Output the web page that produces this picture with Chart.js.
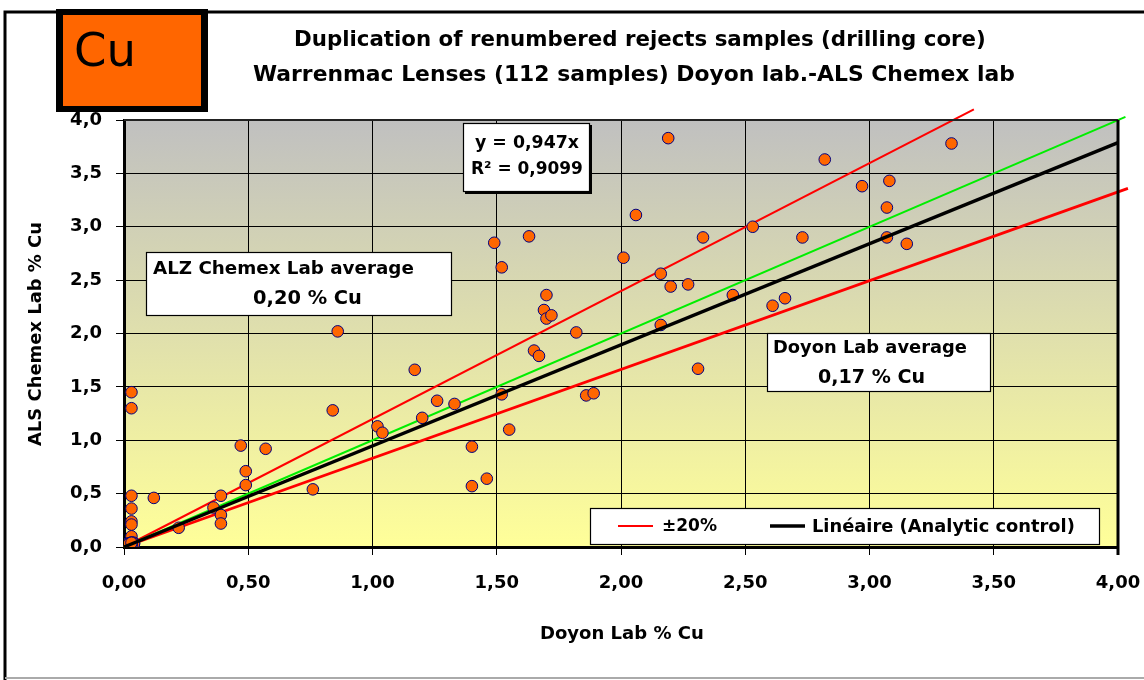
<!DOCTYPE html>
<html><head><meta charset="utf-8">
<script src="https://cdn.jsdelivr.net/npm/chart.js@4/dist/chart.umd.min.js"></script>
<style>html,body{margin:0;padding:0;background:#fff}canvas{display:block}</style>
</head><body>
<canvas id="c" width="1144" height="680"></canvas>
<script>
// ---------- data ----------
const titleLines = ['Duplication of renumbered rejects samples (drilling core)',
                    'Warrenmac Lenses (112 samples) Doyon lab.-ALS Chemex lab'];
const elementLabel = 'Cu';
const xAxisTitle = 'Doyon Lab % Cu';
const yAxisTitle = 'ALS Chemex Lab % Cu';
const xTickLabels = ['0,00','0,50','1,00','1,50','2,00','2,50','3,00','3,50','4,00'];
const yTickLabels = ['0,0','0,5','1,0','1,5','2,0','2,5','3,0','3,5','4,0'];
const equationLines = ['y = 0,947x', 'R² = 0,9099'];
const alsAverageLines = ['ALZ Chemex Lab average', '0,20 % Cu'];
const doyonAverageLines = ['Doyon Lab average', '0,17 % Cu'];
const legendLabels = ['±20%', 'Linéaire (Analytic control)'];

// samples: Doyon lab (x) vs ALS Chemex lab (y), % Cu
const doyonCu = [
  0.86,2.19,2.82,3.33,2.97,3.08,3.07,3.07,3.15,2.06,
  1.49,1.63,1.52,2.01,2.33,2.53,2.73,2.16,2.20,2.27,
  2.45,2.61,2.66,1.70,1.69,1.70,1.72,1.82,2.16,1.17,
  0.03,0.03,0.84,1.26,1.33,1.20,1.02,1.04,1.40,1.46,
  1.40,0.47,0.57,0.49,0.49,0.76,0.03,0.12,0.39,0.36,
  0.39,0.39,0.03,0.03,0.03,0.03,0.03,0.22,1.65,1.67,
  1.52,1.86,1.89,2.31,1.55,
  0.02,0.01,0.02,0.03,0.01,0.02,0.04,0.01,0.02,0.03,
  0.01,0.02,0.02,0.03,0.01,0.02,0.04,0.01,0.03,0.02,
  0.01,0.02,0.03,0.02,0.01,0.04,0.02,0.01,0.03,0.02,
  0.01,0.02,0.03,0.01,0.02,0.02,0.01,0.03,0.02,0.01,
  0.02,0.03
];
const alsCu = [
  2.02,3.83,3.63,3.78,3.38,3.43,3.18,2.90,2.84,3.11,
  2.85,2.91,2.62,2.71,2.90,3.00,2.90,2.56,2.44,2.46,
  2.36,2.26,2.33,2.36,2.22,2.14,2.17,2.01,2.08,1.66,
  1.45,1.30,1.28,1.37,1.34,1.21,1.13,1.07,0.94,0.64,
  0.57,0.95,0.92,0.71,0.58,0.54,0.48,0.46,0.48,0.37,
  0.30,0.22,0.36,0.24,0.21,0.10,0.04,0.18,1.84,1.79,
  1.43,1.42,1.44,1.67,1.10,
  0.02,0.01,0.03,0.02,0.02,0.01,0.03,0.02,0.02,0.04,
  0.01,0.02,0.03,0.03,0.02,0.01,0.04,0.03,0.02,0.02,
  0.01,0.03,0.02,0.02,0.01,0.03,0.01,0.02,0.03,0.02,
  0.02,0.01,0.02,0.02,0.03,0.01,0.01,0.02,0.02,0.02,
  0.03,0.04
];

// reference lines
const trendX = [0, 4.0];   const trendY = [0, 3.788];   // y = 0,947x
const oneToOneX = [0, 4.03]; const oneToOneY = [0, 4.03];
const plus20X = [0, 3.42];  const plus20Y = [0, 4.10];
const minus20X = [0, 4.04]; const minus20Y = [0, 3.36];

const zip = (xs, ys) => xs.map((x, i) => ({x, y: ys[i]}));
const FONT = "'DejaVu Sans', sans-serif";

function fitText(ctx, text, x, y, w, weight, align) {
  ctx.font = `${weight} 40px ${FONT}`;
  const m = ctx.measureText(text).width;
  const s = 40 * w / m;
  ctx.font = `${weight} ${s.toFixed(2)}px ${FONT}`;
  ctx.textAlign = align || 'left';
  ctx.textBaseline = 'middle';
  ctx.fillText(text, x, y);
}
function whiteBox(ctx, x1, y1, x2, y2, shadow) {
  ctx.save();
  if (shadow) { ctx.fillStyle = '#000'; ctx.fillRect(x1 + shadow, y1 + shadow, x2 - x1, y2 - y1); }
  ctx.fillStyle = '#fff'; ctx.fillRect(x1, y1, x2 - x1, y2 - y1);
  ctx.strokeStyle = '#000'; ctx.lineWidth = 1.2;
  ctx.strokeRect(x1 + 0.5, y1 + 0.5, x2 - x1 - 1, y2 - y1 - 1);
  ctx.restore();
}

const decor = {
  id: 'decor',
  beforeDraw(chart) {
    const ctx = chart.ctx, a = chart.chartArea;
    ctx.save();
    ctx.fillStyle = '#fff'; ctx.fillRect(0, 0, chart.width, chart.height);
    // outer frame
    ctx.strokeStyle = '#000'; ctx.lineWidth = 3;
    ctx.beginPath(); ctx.moveTo(5, 680); ctx.lineTo(5, 12); ctx.lineTo(1144, 12); ctx.stroke();
    ctx.strokeStyle = '#aaa'; ctx.lineWidth = 2;
    ctx.beginPath(); ctx.moveTo(5, 678); ctx.lineTo(1144, 678); ctx.stroke();
    // plot gradient
    const g = ctx.createLinearGradient(0, a.top, 0, a.bottom);
    g.addColorStop(0, '#c0c0c0');
    g.addColorStop(1, '#ffff99');
    ctx.fillStyle = g;
    ctx.fillRect(a.left, a.top, a.right - a.left, a.bottom - a.top);
    ctx.restore();
  },
  afterDraw(chart) {
    const ctx = chart.ctx, a = chart.chartArea;
    ctx.save();
    // top & right borders of plot
    ctx.strokeStyle = '#222'; ctx.lineWidth = 2;
    ctx.beginPath(); ctx.moveTo(a.left, a.top); ctx.lineTo(a.right, a.top); ctx.stroke();
    ctx.strokeStyle = '#000'; ctx.lineWidth = 3;
    ctx.beginPath(); ctx.moveTo(a.right, a.top); ctx.lineTo(a.right, a.bottom + 8); ctx.stroke();

    // element box
    ctx.fillStyle = '#000'; ctx.fillRect(56, 9, 152, 103);
    ctx.fillStyle = '#ff6600'; ctx.fillRect(63, 15, 138, 91);
    ctx.fillStyle = '#000';
    fitText(ctx, elementLabel, 74, 54, 62, 'normal', 'left');

    // titles
    fitText(ctx, titleLines[0], 294, 40, 692, 'bold', 'left');
    fitText(ctx, titleLines[1], 253, 75, 762, 'bold', 'left');

    // axis titles
    fitText(ctx, xAxisTitle, 540, 634, 164, 'bold', 'left');
    ctx.save();
    ctx.translate(36, 334); ctx.rotate(-Math.PI / 2);
    fitText(ctx, yAxisTitle, 0, 0, 224, 'bold', 'center');
    ctx.restore();

    // equation box
    whiteBox(ctx, 463, 123, 590, 192, 2);
    ctx.fillStyle = '#000';
    fitText(ctx, equationLines[0], 475, 143, 104, 'bold', 'left');
    fitText(ctx, equationLines[1], 471, 170, 112, 'bold', 'left');

    // ALS average box
    whiteBox(ctx, 146, 252, 452, 316, 0);
    ctx.fillStyle = '#000';
    fitText(ctx, alsAverageLines[0], 153, 269, 261, 'bold', 'left');
    fitText(ctx, alsAverageLines[1], 253, 299, 109, 'bold', 'left');

    // Doyon average box
    whiteBox(ctx, 767, 333, 991, 392, 0);
    ctx.fillStyle = '#000';
    fitText(ctx, doyonAverageLines[0], 773, 348, 194, 'bold', 'left');
    fitText(ctx, doyonAverageLines[1], 818, 378, 107, 'bold', 'left');

    // legend
    whiteBox(ctx, 590, 508, 1100, 545, 0);
    ctx.strokeStyle = '#ff0000'; ctx.lineWidth = 2;
    ctx.beginPath(); ctx.moveTo(618, 526); ctx.lineTo(653, 526); ctx.stroke();
    ctx.strokeStyle = '#000'; ctx.lineWidth = 3.5;
    ctx.beginPath(); ctx.moveTo(770, 526); ctx.lineTo(805, 526); ctx.stroke();
    ctx.fillStyle = '#000';
    fitText(ctx, legendLabels[0], 662, 527, 55, 'bold', 'left');
    fitText(ctx, legendLabels[1], 812, 527, 263, 'bold', 'left');
    ctx.restore();
  }
};

const tickFont = {family: FONT, weight: 'bold', size: 18};

new Chart(document.getElementById('c'), {
  type: 'scatter',
  data: {
    datasets: [
      {type: 'line', data: zip(trendX, trendY), borderColor: '#000', borderWidth: 3.5,
       pointRadius: 0, fill: false, clip: false},
      {data: zip(doyonCu, alsCu), backgroundColor: '#ff6600', borderColor: '#000080',
       borderWidth: 1, pointRadius: 5.8, pointHoverRadius: 5.8},
      {type: 'line', data: zip(oneToOneX, oneToOneY), borderColor: '#00ee00', borderWidth: 2,
       pointRadius: 0, fill: false, clip: false},
      {type: 'line', data: zip(plus20X, plus20Y), borderColor: '#ff0000', borderWidth: 2,
       pointRadius: 0, fill: false, clip: false},
      {type: 'line', data: zip(minus20X, minus20Y), borderColor: '#ff0000', borderWidth: 2.8,
       pointRadius: 0, fill: false, clip: false}
    ]
  },
  options: {
    responsive: false,
    animation: false,
    devicePixelRatio: 1,
    layout: {padding: {left: 0, top: 120, right: 26, bottom: 0}},
    plugins: {legend: {display: false}, tooltip: {enabled: false}, title: {display: false}},
    scales: {
      x: {
        type: 'linear', min: 0, max: 4,
        afterFit: s => { s.height = 133; s.paddingLeft = 0; s.paddingRight = 0; },
        ticks: {stepSize: 0.5, color: '#000', font: tickFont, padding: 18, maxRotation: 0,
                callback: (v, i) => xTickLabels[i]},
        grid: {color: '#000', lineWidth: 1, tickLength: 8, tickColor: '#000'},
        border: {color: '#000', width: 3}
      },
      y: {
        type: 'linear', min: 0, max: 4,
        afterFit: s => { s.width = 124; s.paddingTop = 0; s.paddingBottom = 0; },
        ticks: {stepSize: 0.5, color: '#000', font: tickFont, padding: 14,
                callback: (v, i) => yTickLabels[i]},
        grid: {color: '#000', lineWidth: 1, tickLength: 8, tickColor: '#000'},
        border: {color: '#000', width: 3}
      }
    }
  },
  plugins: [decor]
});
</script>
</body></html>
